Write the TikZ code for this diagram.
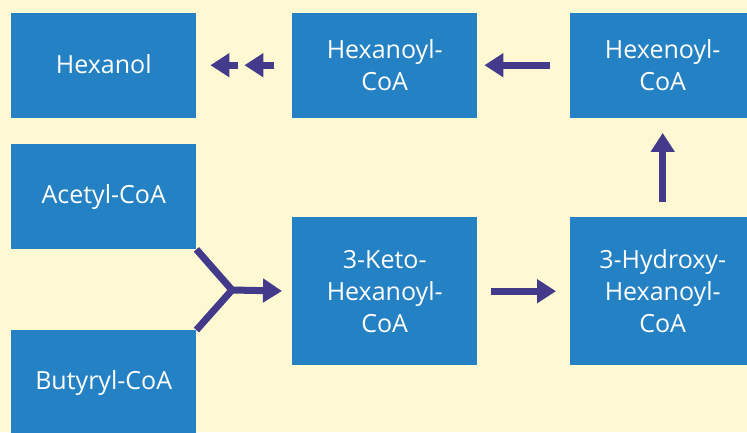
\documentclass[tikz,border=0pt]{standalone}
\usepackage{fontspec}
\setmainfont{Open Sans}
\usetikzlibrary{arrows.meta}
\definecolor{bgc}{HTML}{FFF9D3}
\definecolor{boxc}{HTML}{2381C4}
\definecolor{arrc}{HTML}{433A8C}
\tikzset{
  stepbox/.style={fill=boxc, draw=none, text=white, anchor=north west,
    minimum width=185bp, minimum height=105bp, inner sep=0pt, align=center,
    font=\fontsize{25bp}{32bp}\selectfont},
  tallbox/.style={stepbox, minimum height=148bp},
  arr/.style={draw=arrc, line width=7bp,
    -{Triangle[length=19bp,width=23bp]}},
  plainline/.style={draw=arrc, line width=7bp},
}
\begin{document}
\begin{tikzpicture}[x=1bp,y=-1bp]
\fill[bgc] (0,0) rectangle (747,432);
\useasboundingbox (0,0) rectangle (747,432);
\node[stepbox] (hexanol) at (11,12.5) {\raisebox{3bp}{Hexanol}};
\node[stepbox] (hexanoyl) at (292,12.5) {Hexanoyl-\\CoA};
\node[stepbox] (hexenoyl) at (570,12.5) {Hexenoyl-\\CoA};
\node[stepbox] (acetyl) at (11,144) {Acetyl-CoA};
\node[stepbox] (butyryl) at (11,330) {Butyryl-CoA};
\node[tallbox] (keto) at (292,217) {3-Keto-\\Hexanoyl-\\CoA};
\node[tallbox] (hydroxy) at (570,217) {3-Hydroxy-\\Hexanoyl-\\CoA};
\coordinate (j) at (232,290);
\draw[plainline, line join=miter] (acetyl.south east) -- (j) -- (butyryl.north east);
\draw[arr, shorten >=10bp] (j) -- (keto.west);
\draw[arr, shorten <=14bp, shorten >=14bp] (keto.east) -- (hydroxy.west);
\draw[arr, shorten <=15bp, shorten >=15bp] (hydroxy.north) -- (hexenoyl.south);
\draw[arr, shorten <=20bp, shorten >=7bp] (hexenoyl.west) -- (hexanoyl.east);
\draw[arr, shorten <=18bp, shorten >=48bp] (hexanoyl.west) -- (hexanol.east);
\draw[arr, shorten <=54bp, shorten >=14bp] (hexanoyl.west) -- (hexanol.east);
\end{tikzpicture}
\end{document}
